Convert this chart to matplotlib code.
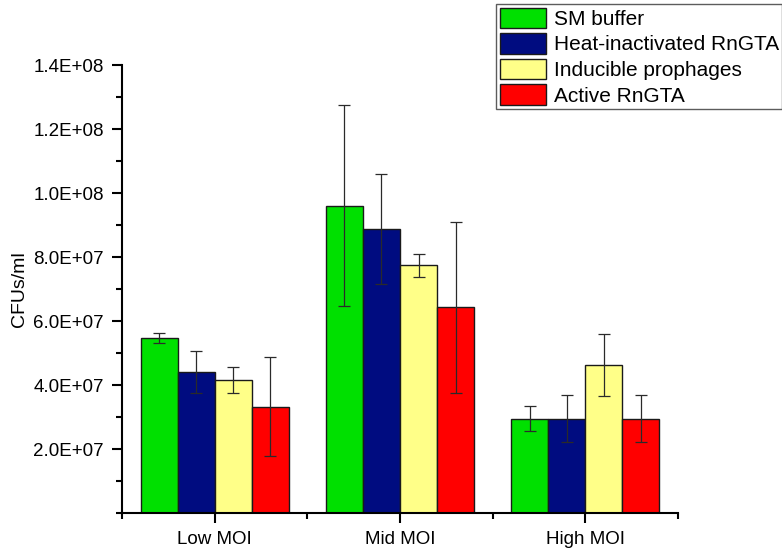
import numpy as np
import matplotlib
matplotlib.use("Agg")
import matplotlib.pyplot as plt
from matplotlib.ticker import MultipleLocator, FixedLocator

plt.rcParams['font.family'] = ['Liberation Sans', 'DejaVu Sans']

categories = ["Low MOI", "Mid MOI", "High MOI"]
series_names = ["SM buffer", "Heat-inactivated RnGTA", "Inducible prophages", "Active RnGTA"]
colors = ["#00E000", "#000C80", "#FFFF88", "#FF0000"]

sm_buffer = [5.47e7, 9.61e7, 2.96e7]
sm_buffer_err = [1.5e6, 3.13e7, 3.8e6]
heat_inactivated = [4.41e7, 8.87e7, 2.96e7]
heat_inactivated_err = [6.6e6, 1.72e7, 7.4e6]
inducible_prophages = [4.17e7, 7.74e7, 4.63e7]
inducible_prophages_err = [4.1e6, 3.5e6, 9.8e6]
active_rngta = [3.33e7, 6.44e7, 2.96e7]
active_rngta_err = [1.55e7, 2.67e7, 7.4e6]

values = [sm_buffer, heat_inactivated, inducible_prophages, active_rngta]
errors = [sm_buffer_err, heat_inactivated_err, inducible_prophages_err, active_rngta_err]

fig = plt.figure(figsize=(7.82, 5.5), dpi=100)
ax = fig.add_axes([0.156, 0.0667, 0.711, 0.815])

x = np.arange(len(categories))
width = 0.2
handles = []
for i, (vals, errs, col, name) in enumerate(zip(values, errors, colors, series_names)):
    pos = x + (i - 1.5) * width
    b = ax.bar(pos, vals, width, color=col, edgecolor="#1a1a1a", linewidth=1.0,
               label=name, zorder=2)
    ax.errorbar(pos, vals, yerr=errs, fmt="none", ecolor="#2a2a2a",
                elinewidth=0.9, capsize=4, capthick=0.9, zorder=3)
    handles.append(b)

ax.set_xlim(-0.5, 2.5)
ax.set_ylim(0, 1.4e8)
ax.set_xticks(x)
ax.set_xticklabels(categories, fontsize=13.5)
ax.xaxis.set_minor_locator(FixedLocator([-0.5, 0.5, 1.5, 2.5]))

yt = np.arange(2e7, 1.41e8, 2e7)
ax.set_yticks(yt)
ax.set_yticklabels([f"{v:.1E}" for v in yt], fontsize=13.5)
ax.yaxis.set_minor_locator(MultipleLocator(1e7))
ax.set_ylabel("CFUs/ml", fontsize=14, labelpad=4)

for s in ["top", "right"]:
    ax.spines[s].set_visible(False)
for s in ["left", "bottom"]:
    ax.spines[s].set_linewidth(1.5)

ax.tick_params(axis="both", which="major", direction="out", length=7, width=1.5, pad=6)
ax.tick_params(axis="both", which="minor", direction="out", length=4, width=1.5)

leg = fig.legend(handles=handles, labels=series_names, loc="upper right",
                 bbox_to_anchor=(1.0, 0.992), fontsize=15, frameon=True, fancybox=False,
                 edgecolor="#333333", borderpad=0.15, labelspacing=0.2,
                 handlelength=2.25, handleheight=1.15, handletextpad=0.35,
                 borderaxespad=0.0)
leg.get_frame().set_linewidth(1.0)

fig.savefig("out.png", dpi=100)
